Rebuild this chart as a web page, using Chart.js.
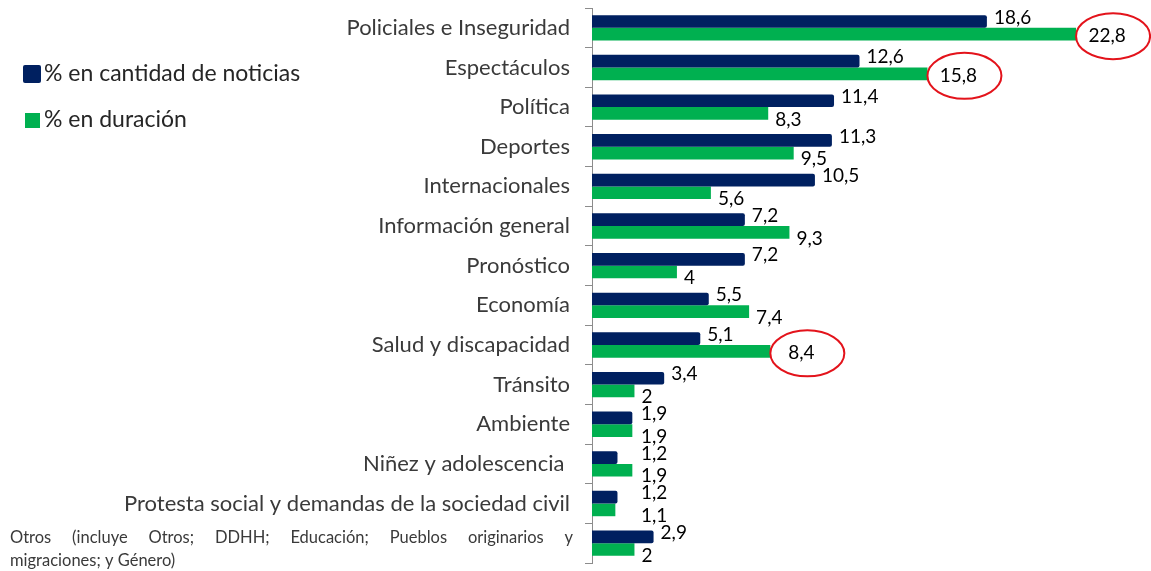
<!DOCTYPE html>
<html>
<head>
<meta charset="utf-8">
<script src="https://cdn.jsdelivr.net/npm/chart.js@4.4.1/dist/chart.umd.min.js"></script>
<style>
  html, body { margin: 0; padding: 0; background: #ffffff; }
  #wrap { position: relative; width: 1151px; height: 571px; }
</style>
</head>
<body>
<div id="wrap"><canvas id="c" width="1151" height="571"></canvas></div>
<script>
const categories = [
  'Policiales e Inseguridad',
  'Espectáculos',
  'Política',
  'Deportes',
  'Internacionales',
  'Información general',
  'Pronóstico',
  'Economía',
  'Salud y discapacidad',
  'Tránsito',
  'Ambiente',
  'Niñez y adolescencia ',
  'Protesta social y demandas de la sociedad civil',
  'Otros (incluye Otros; DDHH; Educación; Pueblos originarios y migraciones; y Género)'
];
const cantidadNoticias = [18.6, 12.6, 11.4, 11.3, 10.5, 7.2, 7.2, 5.5, 5.1, 3.4, 1.9, 1.2, 1.2, 2.9];
const duracion = [22.8, 15.8, 8.3, 9.5, 5.6, 9.3, 4, 7.4, 8.4, 2, 1.9, 1.9, 1.1, 2];
const seriesNames = ['% en cantidad de noticias', '% en duración'];
const highlightedDuracion = [0, 1, 8];

const NAVY = '#002060';
const GREEN = '#00B050';
const FONT = 'Lato, "Open Sans", sans-serif';

const categoryLabelsPlugin = {
  id: 'categoryLabels',
  afterDraw(chart) {
    const ctx = chart.ctx;
    const y = chart.scales.y;
    const rightX = chart.chartArea.left - 22;
    const leftX = 10;
    ctx.save();
    ctx.fillStyle = '#3a3a3a';
    ctx.textBaseline = 'middle';
    categories.forEach((lab, i) => {
      const cy = y.getPixelForValue(i);
      ctx.font = '22px ' + FONT;
      const w = ctx.measureText(lab).width;
      if (w <= rightX - leftX) {
        ctx.textAlign = 'right';
        ctx.fillText(lab, rightX, cy);
      } else {
        // small font, wrapped and justified
        ctx.font = '16.5px ' + FONT;
        ctx.textAlign = 'left';
        const words = lab.split(' ');
        const maxW = rightX + 3 - leftX;
        const wrapW = maxW * 0.85;
        const lines = [];
        let cur = [];
        words.forEach(wd => {
          const test = cur.concat([wd]).join(' ');
          if (ctx.measureText(test).width > wrapW && cur.length) {
            lines.push(cur); cur = [wd];
          } else cur.push(wd);
        });
        if (cur.length) lines.push(cur);
        lines.forEach((ln, li) => {
          const ly = cy - 6 + li * 23;
          if (li < lines.length - 1 && ln.length > 1) {
            const wordsW = ln.reduce((s, t) => s + ctx.measureText(t).width, 0);
            const gap = (maxW - wordsW) / (ln.length - 1);
            let x = leftX;
            ln.forEach(t => { ctx.fillText(t, x, ly); x += ctx.measureText(t).width + gap; });
          } else {
            ctx.fillText(ln.join(' '), leftX, ly);
          }
        });
      }
    });
    ctx.restore();
  }
};

const valueLabelsPlugin = {
  id: 'valueLabels',
  afterDatasetsDraw(chart) {
    const ctx = chart.ctx;
    const left = chart.chartArea.left;
    ctx.save();
    ctx.font = '19px ' + FONT;
    ctx.fillStyle = '#000000';
    ctx.textBaseline = 'middle';
    chart.data.datasets.forEach((ds, di) => {
      const meta = chart.getDatasetMeta(di);
      meta.data.forEach((el, i) => {
        const txt = String(ds.data[i]).replace('.', ',');
        const circled = di === 1 && highlightedDuracion.includes(i);
        if (circled) {
          ctx.save();
          ctx.strokeStyle = '#E3131B';
          ctx.lineWidth = 2;
          ctx.beginPath();
          ctx.ellipse(el.x + 37, el.y + 2, 37, 23, 0, 0, Math.PI * 2);
          ctx.stroke();
          ctx.restore();
          ctx.textAlign = 'center';
          ctx.fillText(txt, el.x + 31, el.y + 2);
        } else {
          ctx.textAlign = 'left';
          const x = Math.max(el.x + 7, left + 49);
          ctx.fillText(txt, x, el.y + (di === 0 ? -4 : 6));
        }
      });
    });
    ctx.restore();
  }
};

const legendPlugin = {
  id: 'customLegend',
  afterDraw(chart) {
    const ctx = chart.ctx;
    ctx.save();
    ctx.fillStyle = NAVY;
    ctx.beginPath();
    ctx.roundRect(23, 65, 18, 18, 2);
    ctx.fill();
    ctx.fillStyle = GREEN;
    ctx.fillRect(25, 113, 15, 15);
    ctx.fillStyle = '#262626';
    ctx.font = '23px ' + FONT;
    ctx.textBaseline = 'middle';
    ctx.textAlign = 'left';
    ctx.fillText(chart.data.datasets[0].label, 44, 74);
    ctx.fillText(chart.data.datasets[1].label, 44, 120);
    ctx.restore();
  }
};

new Chart(document.getElementById('c'), {
  type: 'bar',
  data: {
    labels: categories,
    datasets: [
      { label: seriesNames[0], data: cantidadNoticias, backgroundColor: NAVY, borderRadius: 2, borderSkipped: 'start',
        barPercentage: 1, categoryPercentage: 0.64 },
      { label: seriesNames[1], data: duracion, backgroundColor: GREEN, borderRadius: 0,
        barPercentage: 1, categoryPercentage: 0.64 }
    ]
  },
  options: {
    indexAxis: 'y',
    responsive: false,
    animation: false,
    layout: { padding: { left: 0, right: 7, top: 8, bottom: 8 } },
    plugins: { legend: { display: false }, tooltip: { enabled: false } },
    scales: {
      x: { display: false, min: 0, max: 26 },
      y: {
        offset: true,
        afterFit(scale) { scale.width = 592; },
        ticks: { display: false },
        grid: { display: true, drawOnChartArea: false, drawTicks: true, tickLength: 7, color: '#8c8c8c', offset: true },
        border: { display: true, color: '#8c8c8c', width: 1 }
      }
    }
  },
  plugins: [categoryLabelsPlugin, valueLabelsPlugin, legendPlugin]
});
</script>
</body>
</html>
